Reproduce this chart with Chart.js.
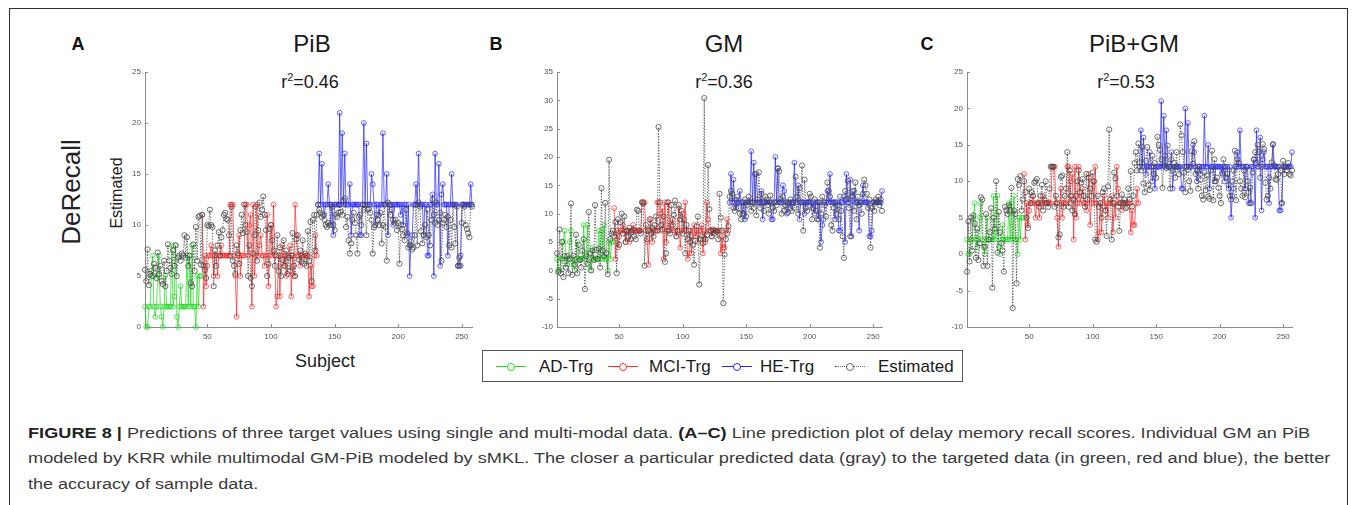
<!DOCTYPE html>
<html>
<head>
<meta charset="utf-8">
<title>DeRecall predictions</title>
<script src="https://cdn.jsdelivr.net/npm/chart.js@4.4.1/dist/chart.umd.min.js"></script>
<style>
    html, body { margin: 0; padding: 0; background: #fff; }
    body {
        width: 1355px; height: 505px; position: relative; overflow: hidden;
        font-family: "Liberation Sans", Arial, Helvetica, sans-serif; color: #222;
    }
    .frame {
        position: absolute; left: 9px; top: 8px; width: 1339px; height: 540px;
        border: 1px solid #333; box-sizing: border-box;
    }
    .abs { position: absolute; white-space: nowrap; line-height: 1; }
    .letter { font-weight: bold; font-size: 18px; transform: translateX(-50%); color: #111; }
    .title { font-size: 24px; transform: translateX(-50%); color: #1a1a1a; }
    .r2 { font-size: 18px; transform: translateX(-50%); color: #1a1a1a; }
    .r2 sup { font-size: 11px; position: relative; top: -1px; vertical-align: top; }
    .rot { transform: translate(-50%, -50%) rotate(-90deg); }
    .plot { position: absolute; }
    .legend {
        position: absolute; left: 482px; top: 350px; width: 481px; height: 32px;
        border: 1px solid #555; box-sizing: border-box; background: #fff;
    }
    .legend .sample { position: absolute; top: 15px; height: 0; width: 30px; border-top: 1px solid; }
    .legend .dot {
        position: absolute; top: -4px; left: 11px; width: 6px; height: 6px;
        border: 1px solid; border-radius: 50%; background: #fff;
    }
    .legend .label { position: absolute; top: 7px; font-size: 17px; line-height: 1; color: #1a1a1a; }
    .caption { position: absolute; left: 28px; font-size: 15.5px; color: #3a3a3a; transform-origin: 0 0; }
    .caption b { color: #222; }
</style>
</head>
<body>
<div class="frame"></div>

<!-- panel headings -->
<div class="abs letter" style="left:78px; top:35px;">A</div>
<div class="abs letter" style="left:496px; top:35px;">B</div>
<div class="abs letter" style="left:927px; top:35px;">C</div>
<div class="abs title" style="left:312px; top:32px;">PiB</div>
<div class="abs title" style="left:724px; top:32px;">GM</div>
<div class="abs title" style="left:1134px; top:32px;">PiB+GM</div>
<div class="abs r2" style="left:310px; top:73px;">r<sup>2</sup>=0.46</div>
<div class="abs r2" style="left:724px; top:73px;">r<sup>2</sup>=0.36</div>
<div class="abs r2" style="left:1126px; top:73px;">r<sup>2</sup>=0.53</div>

<div class="abs rot" style="left:71px; top:192px; font-size:26px;">DeRecall</div>
<div class="abs rot" style="left:117px; top:193px; font-size:16px;">Estimated</div>
<div class="abs" style="left:325px; top:352px; font-size:18px; transform:translateX(-50%);">Subject</div>

<div class="plot" id="plotA"><canvas></canvas></div>
<div class="plot" id="plotB"><canvas></canvas></div>
<div class="plot" id="plotC"><canvas></canvas></div>

<div class="legend">
    <div class="sample" style="left:13px; border-color:#22dd22;"><div class="dot" style="border-color:#22dd22;"></div></div>
    <div class="label" style="left:56px;">AD-Trg</div>
    <div class="sample" style="left:125px; border-color:#ff3030;"><div class="dot" style="border-color:#ff3030;"></div></div>
    <div class="label" style="left:166px;">MCI-Trg</div>
    <div class="sample" style="left:239px; border-color:#2525ff;"><div class="dot" style="border-color:#2525ff;"></div></div>
    <div class="label" style="left:277px;">HE-Trg</div>
    <div class="sample" style="left:352px; border-top-style:dotted; border-color:#666;"><div class="dot" style="border-color:#666;"></div></div>
    <div class="label" style="left:395px;">Estimated</div>
</div>

<div class="abs caption" id="cap1" style="top:425px;"><b>FIGURE 8 |</b> Predictions of three target values using single and multi-modal data. <b>(A–C)</b> Line prediction plot of delay memory recall scores. Individual GM an PiB</div>
<div class="abs caption" id="cap2" style="top:450px;">modeled by KRR while multimodal GM-PiB modeled by sMKL. The closer a particular predicted data (gray) to the targeted data (in green, red and blue), the better</div>
<div class="abs caption" id="cap3" style="top:476px;">the accuracy of sample data.</div>

<script>
/* ==========================================================================
   DATA
   ========================================================================== */
// first subject number of each diagnostic group
const AD_START = 1;
const MCI_START = 46;
const HE_START = 137;

// target DeRecall scores, subjects 1-45 (AD)
const targetAD = [
    2, 0, 0, 2, 2, 5, 7, 2, 1, 2,
    5, 7, 2, 1, 0, 2, 5, 2, 2, 2,
    2, 8, 2, 3, 8, 1, 0, 2, 4, 2,
    2, 2, 2, 7, 2, 7, 2, 8, 2, 2,
    0, 5, 2, 5, 5
];

// target scores, subjects 46-136 (MCI)
const targetMCI = [
    11, 2, 7, 4, 6, 7, 7, 8, 7, 5,
    7, 7, 5, 7, 7, 8, 7, 7, 7, 7,
    7, 7, 12, 12, 12, 7, 5, 1, 7, 9,
    5, 7, 7, 7, 12, 12, 7, 10, 11, 2,
    12, 5, 7, 12, 7, 8, 9, 7, 7, 6,
    7, 11, 4, 7, 10, 7, 12, 7, 2, 3,
    7, 3, 7, 8, 6, 7, 5, 7, 7, 8,
    3, 7, 5, 12, 9, 7, 7, 6, 7, 7,
    7, 7, 7, 7, 3, 6, 4, 4, 7, 9,
    7
];

// target scores, subjects 137-258 (HE)
const targetHE = [
    12, 17, 12, 16, 12, 11, 12, 12, 14, 12,
    10, 12, 9, 12, 12, 12, 12, 21, 12, 19,
    12, 17, 12, 12, 12, 14, 9, 12, 12, 12,
    12, 12, 12, 9, 9, 12, 20, 12, 18, 12,
    12, 12, 15, 14, 12, 10, 12, 12, 11, 12,
    12, 19, 12, 12, 15, 9, 12, 12, 12, 10,
    12, 12, 12, 12, 12, 11, 12, 10, 12, 12,
    9, 12, 5, 8, 9, 12, 12, 14, 12, 17,
    12, 12, 12, 9, 12, 12, 7, 7, 12, 12,
    13, 5, 17, 12, 12, 16, 6, 13, 14, 12,
    12, 12, 7, 12, 12, 15, 12, 12, 12, 12,
    6, 6, 7, 12, 12, 12, 12, 12, 12, 12,
    14, 12
];

// estimated scores, PiB model (KRR), subjects 1-258
const estPiB = [
    5.6, 4.5, 7.6, 4.1, 5.2, 5.5, 5.0, 6.2, 5.8, 4.8,
    7.3, 5.2, 6.0, 4.5, 4.2, 6.5, 4.0, 5.5, 8.1, 6.5,
    5.8, 5.2, 7.5, 6.0, 8.0, 5.0, 6.8, 7.0, 6.5, 7.2,
    7.0, 9.0, 6.8, 8.8, 6.0, 7.0, 4.3, 4.0, 8.1, 5.5,
    9.8, 6.5, 10.8, 10.9, 6.1, 11.0, 6.0, 5.6, 4.8, 10.0,
    9.9, 11.5, 10.0, 9.8, 4.0, 7.5, 6.0, 8.0, 9.3, 7.0,
    8.8, 9.5, 11.0, 11.2, 10.6, 10.5, 9.0, 7.0, 11.8, 6.5,
    6.0, 5.2, 8.0, 7.2, 6.2, 9.5, 11.0, 9.2, 12.0, 10.0,
    9.3, 5.0, 8.0, 4.8, 4.0, 7.2, 9.0, 11.8, 6.5, 9.5,
    12.2, 10.8, 11.5, 12.8, 11.0, 9.5, 5.0, 6.2, 9.6, 10.0,
    8.5, 7.5, 6.0, 7.0, 9.0, 5.5, 7.8, 5.0, 6.6, 8.5,
    6.0, 7.5, 5.2, 6.8, 5.5, 7.0, 9.2, 6.0, 5.0, 8.6,
    9.0, 6.6, 7.5, 6.4, 8.5, 6.2, 7.2, 6.0, 9.4, 6.5,
    10.3, 4.5, 10.5, 11.0, 7.5, 11.0, 12.0, 11.5, 11.2, 10.8,
    11.0, 10.5, 10.0, 9.8, 10.2, 10.0, 12.0, 11.8, 10.0, 9.5,
    11.0, 10.8, 11.2, 12.0, 11.3, 11.0, 12.4, 12.6, 9.8, 10.8,
    8.5, 7.2, 8.2, 10.5, 11.2, 10.2, 9.0, 7.2, 10.8, 11.0,
    10.0, 12.0, 11.5, 12.0, 9.0, 11.5, 11.6, 11.2, 10.5, 7.2,
    9.8, 10.0, 11.0, 10.5, 10.0, 11.2, 8.2, 10.0, 12.0, 9.8,
    6.5, 12.2, 12.0, 11.0, 11.5, 10.5, 10.2, 10.5, 9.5, 10.2,
    6.2, 10.0, 9.6, 9.0, 8.5, 11.5, 9.2, 7.8, 8.0, 8.4,
    7.6, 7.8, 9.0, 12.0, 8.0, 12.2, 11.8, 9.4, 8.2, 9.0,
    10.0, 8.8, 11.5, 9.0, 8.0, 10.5, 12.5, 11.0, 10.2, 12.2,
    10.0, 10.5, 11.2, 6.5, 10.2, 10.5, 11.0, 9.8, 10.8, 8.0,
    10.5, 7.8, 12.0, 9.8, 8.2, 11.8, 6.0, 6.8, 6.0, 10.2,
    12.0, 11.8, 10.0, 9.6, 9.2, 8.8, 12.0, 11.8
];

// estimated scores, GM model (KRR)
const estGM = [
    3.0, -0.3, 7.2, -0.5, 5.0, -1.2, 2.5, 0.5, 2.5, -0.5,
    2.0, 11.8, -0.8, 2.6, 1.0, 6.3, -0.5, 4.5, 1.8, 0.5,
    3.5, 5.5, -3.3, 2.5, 1.2, 10.3, 3.0, 0.0, 3.5, 1.8,
    11.5, 3.6, 2.0, 3.8, 0.5, 14.5, 3.5, 2.5, 11.9, 3.0,
    -0.7, 19.5, 5.5, 6.5, 7.0, 6.0, 8.5, -0.5, 9.0, 4.5,
    8.5, 10.0, 6.5, 9.5, 5.0, 7.0, 6.0, 7.5, 5.5, 6.8,
    7.2, 6.0, 5.5, 10.7, 10.5, 7.0, 6.5, 12.0, 11.8, 0.8,
    8.0, 5.5, 7.0, 9.0, 6.5, 7.5, 6.0, 8.0, 9.5, 7.0,
    25.3, 12.0, 8.0, 7.2, 9.5, 1.5, 3.0, 12.0, 7.0, 6.5,
    11.5, 8.0, 9.8, 12.3, 6.0, 7.0, 11.5, 9.0, 10.5, 6.5,
    9.0, 3.0, 8.0, 5.5, 7.0, 5.0, 6.0, 4.5, 1.0, 5.2,
    7.8, 9.5, -2.5, 5.5, 6.0, 4.8, 30.4, 5.5, 6.2, 18.6,
    10.8, 7.0, 6.0, 7.2, 6.5, 7.0, 6.8, 5.5, 13.5, 9.3,
    7.0, -5.8, 2.8, 5.5, 6.5, 7.8, 13.0, 14.0, 13.5, 11.0,
    10.5, 12.5, 13.0, 11.0, 10.0, 9.0, 12.0, 10.0, 12.5, 9.5,
    11.5, 13.0, 12.0, 10.5, 12.0, 11.0, 17.0, 9.7, 12.5, 17.3,
    11.0, 13.5, 12.0, 10.5, 13.0, 12.5, 11.5, 10.0, 13.2, 12.0,
    11.0, 10.5, 12.0, 11.5, 18.0, 17.5, 12.6, 10.0, 13.0, 10.5,
    11.5, 12.0, 10.2, 11.8, 12.5, 10.5, 12.0, 11.0, 16.5, 13.0,
    10.0, 14.5, 12.0, 18.5, 7.0, 16.0, 11.0, 10.5, 12.0, 13.5,
    13.0, 9.0, 11.0, 12.5, 10.5, 9.0, 12.0, 4.0, 10.0, 13.0,
    12.0, 11.5, 9.5, 15.5, 14.0, 13.0, 8.0, 7.0, 11.0, 12.0,
    10.0, 11.5, 9.0, 13.0, 10.5, 6.0, 2.2, 14.0, 12.5, 15.8,
    11.0, 6.0, 13.0, 14.0, 10.5, 15.5, 9.0, 13.0, 11.5, 12.0,
    10.0, 13.5, 16.0, 15.0, 13.5, 11.0, 12.5, 4.0, 11.0, 12.0,
    10.5, 12.5, 12.0, 13.0, 11.5, 12.5, 10.5, 12.5
];

// estimated scores, PiB+GM model (sMKL)
const estPiBGM = [
    -2.4, 4.5, -1.0, 5.0, 0.5, 5.3, 4.2, -0.5, 3.5, -0.8,
    1.5, 7.8, 7.5, -1.6, 1.0, 5.5, -1.6, 2.0, 3.0, 6.3,
    -4.6, 5.0, 3.5, 10.0, 0.2, 5.8, 3.0, 1.5, 0.5, -2.4,
    6.5, 6.0, 5.5, 6.7, 6.0, 9.1, -7.4, 6.0, 5.5, -4.0,
    10.3, 9.5, 10.7, 6.0, 7.5, 10.0, 8.5, 5.0, 3.6, 9.0,
    7.0, 8.5, 8.0, 9.8, 10.0, 10.3, 7.0, 6.5, 8.0, 9.5,
    6.0, 7.5, 10.0, 7.0, 6.5, 9.0, 12.0, 12.0, 12.0, 6.5,
    8.0, 7.0, 2.3, 2.7, 10.6, 10.8, 6.5, 8.0, 9.0, 14.0,
    6.5, 11.5, 8.0, 6.0, 7.5, 5.5, 8.0, 10.0, 11.5, 8.5,
    9.8, 10.3, 8.0, 6.5, 11.0, 7.5, 10.5, 9.0, 8.0, 11.2,
    10.0, 2.0, 1.7, 8.0, 6.5, 7.0, 5.0, 8.5, 9.0, 6.0,
    2.5, 9.3, 17.1, 7.5, 2.0, 7.0, 11.2, 10.4, 8.0, 6.5,
    3.2, 7.0, 8.2, 7.0, 7.5, 6.3, 6.5, 9.0, 7.5, 11.4,
    6.5, 8.0, 12.5, 14.0, 11.5, 15.2, 12.6, 11.5, 14.7, 9.7,
    8.5, 12.8, 14.7, 9.5, 8.8, 12.0, 13.5, 11.0, 12.5, 10.5,
    16.1, 15.0, 14.3, 13.0, 9.1, 12.2, 13.5, 11.8, 14.9, 12.0,
    9.0, 13.0, 11.5, 12.5, 10.5, 14.0, 12.0, 11.0, 17.8, 16.3,
    14.0, 11.2, 8.5, 12.0, 11.6, 10.0, 8.7, 14.1, 12.4, 15.5,
    11.0, 11.5, 9.0, 12.0, 10.2, 8.0, 7.5, 11.2, 8.8, 10.8,
    7.9, 7.6, 11.5, 14.2, 7.4, 13.0, 10.0, 10.5, 9.1, 8.0,
    7.0, 11.2, 13.0, 12.0, 10.5, 11.0, 9.5, 8.0, 7.5, 10.0,
    11.5, 14.2, 7.4, 13.0, 12.5, 10.0, 9.0, 8.0, 11.5, 7.8,
    12.0, 10.0, 8.5, 9.1, 7.0, 11.2, 13.0, 14.0, 12.5, 15.0,
    14.0, 10.5, 12.0, 15.1, 14.4, 9.8, 7.5, 8.0, 10.5, 9.0,
    12.6, 15.1, 12.2, 10.3, 10.2, 11.0, 12.0, 11.5, 7.0, 12.8,
    11.0, 12.0, 11.5, 12.5, 11.0, 10.8, 11.5, 10.3
];

const xTicks = [50, 100, 150, 200, 250];

/* ==========================================================================
   LAYOUT & STYLE
   ========================================================================== */
const AXIS_W = 40;     // room for y tick labels
const AXIS_H = 22;     // room for x tick labels
const PAD_TOP = 10;
const PAD_RIGHT = 10;
const PLOT_TOP = 72;
const PLOT_H = 255;

const COLORS = {
    ad: 'rgba(20, 215, 20, 0.85)',
    mci: 'rgba(255, 30, 30, 0.85)',
    he: 'rgba(30, 30, 255, 0.85)',
    est: '#4a4a4a',
    axis: '#8c8c8c',
    tick: '#555555'
};

const panels = [
    { id: 'plotA', est: estPiB,   left: 145, right: 472,  xMax: 258, yMin: 0,   yMax: 25 },
    { id: 'plotB', est: estGM,    left: 557, right: 882,  xMax: 257, yMin: -10, yMax: 35 },
    { id: 'plotC', est: estPiBGM, left: 967, right: 1292, xMax: 257, yMin: -10, yMax: 25 }
];

/* ==========================================================================
   CHART HELPERS
   ========================================================================== */
function toPoints(values, start) {
    return values.map((v, i) => ({ x: start + i, y: v }));
}

function series(label, points, color, order, dashed) {
    return {
        label: label,
        data: points,
        borderColor: color,
        borderWidth: dashed ? 0.9 : 0.8,
        borderDash: dashed ? [1.2, 1.6] : [],
        pointRadius: dashed ? 2.6 : 2.4,
        pointBorderWidth: 0.8,
        pointBorderColor: color,
        pointBackgroundColor: 'rgba(0,0,0,0)',
        tension: 0,
        order: order,
        clip: 4
    };
}

// MATLAB style: tick marks pointing into the plot area
const inwardTicks = {
    id: 'inwardTicks',
    afterDraw(chart) {
        const { ctx, chartArea, scales } = chart;
        ctx.save();
        ctx.strokeStyle = COLORS.axis;
        ctx.lineWidth = 1;
        ctx.beginPath();
        scales.x.ticks.forEach(t => {
            const px = Math.round(scales.x.getPixelForValue(t.value)) + 0.5;
            ctx.moveTo(px, chartArea.bottom);
            ctx.lineTo(px, chartArea.bottom - 3);
        });
        scales.y.ticks.forEach(t => {
            const py = Math.round(scales.y.getPixelForValue(t.value)) + 0.5;
            ctx.moveTo(chartArea.left, py);
            ctx.lineTo(chartArea.left + 3, py);
        });
        ctx.stroke();
        ctx.restore();
    }
};

function buildChart(panel) {
    const wrap = document.getElementById(panel.id);
    const canvas = wrap.querySelector('canvas');
    const w = (panel.right - panel.left) + AXIS_W + PAD_RIGHT;
    const h = PLOT_H + PAD_TOP + AXIS_H;

    wrap.style.left = (panel.left - AXIS_W) + 'px';
    wrap.style.top = (PLOT_TOP - PAD_TOP) + 'px';
    wrap.style.width = w + 'px';
    wrap.style.height = h + 'px';
    canvas.style.width = w + 'px';
    canvas.style.height = h + 'px';
    canvas.width = w;
    canvas.height = h;

    const tickFont = { family: '"Liberation Sans", Arial, sans-serif', size: 8 };

    return new Chart(canvas, {
        type: 'line',
        data: {
            datasets: [
                series('AD-Trg', toPoints(targetAD, AD_START), COLORS.ad, 1, false),
                series('MCI-Trg', toPoints(targetMCI, MCI_START), COLORS.mci, 1, false),
                series('HE-Trg', toPoints(targetHE, HE_START), COLORS.he, 1, false),
                series('Estimated', toPoints(panel.est, 1), COLORS.est, 0, true)
            ]
        },
        options: {
            responsive: false,
            animation: false,
            events: [],
            layout: { padding: { top: PAD_TOP, right: PAD_RIGHT, left: 0, bottom: 0 } },
            plugins: {
                legend: { display: false },
                tooltip: { enabled: false }
            },
            scales: {
                x: {
                    type: 'linear',
                    min: 1,
                    max: panel.xMax,
                    afterBuildTicks: s => { s.ticks = xTicks.map(v => ({ value: v })); },
                    afterFit: s => { s.height = AXIS_H; },
                    grid: { display: false, drawTicks: false },
                    border: { color: COLORS.axis, width: 1 },
                    ticks: { font: tickFont, color: COLORS.tick, padding: 5, maxRotation: 0, autoSkip: false }
                },
                y: {
                    type: 'linear',
                    min: panel.yMin,
                    max: panel.yMax,
                    afterFit: s => { s.width = AXIS_W; },
                    grid: { display: false, drawTicks: false },
                    border: { color: COLORS.axis, width: 1 },
                    ticks: { stepSize: 5, font: tickFont, color: COLORS.tick, padding: 4 }
                }
            }
        },
        plugins: [inwardTicks]
    });
}

/* ==========================================================================
   CAPTION FITTING
   ========================================================================== */
function fitLine(id, targetWidth) {
    const el = document.getElementById(id);
    const actual = el.scrollWidth;
    if (actual > 0) el.style.transform = 'scaleX(' + (targetWidth / actual) + ')';
}

document.addEventListener('DOMContentLoaded', () => {
    panels.forEach(buildChart);
    fitLine('cap1', 1282);
    fitLine('cap2', 1302);
    fitLine('cap3', 230);
});
</script>
</body>
</html>
